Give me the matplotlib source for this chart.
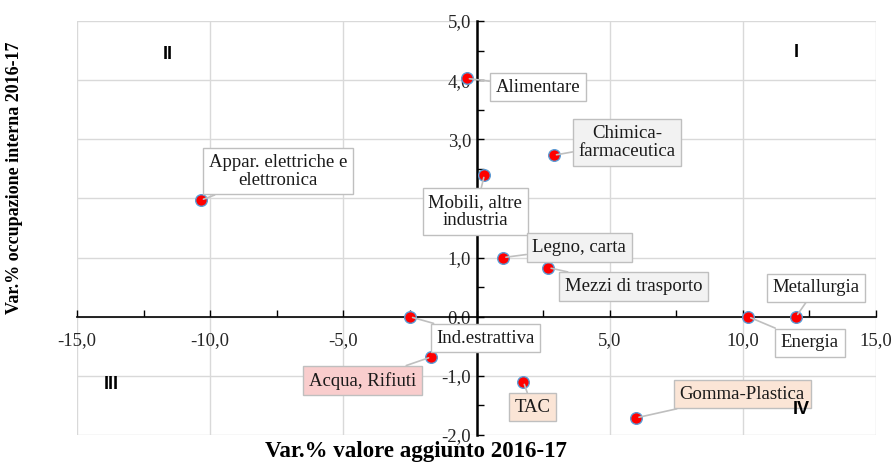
import matplotlib.pyplot as plt
import numpy as np
from matplotlib.ticker import MultipleLocator, FuncFormatter

# data
settori = ['Alimentare', 'Chimica-\nfarmaceutica', 'Appar. elettriche e\nelettronica',
           'Mobili, altre\nindustria', 'Legno, carta', 'Mezzi di trasporto',
           'Metallurgia', 'Energia', 'Ind.estrattiva', 'Acqua, Rifiuti',
           'TAC', 'Gomma-Plastica']
var_va = [-0.37, 2.9, -10.35, 0.3, 1.0, 2.7, 12.0, 10.2, -2.5, -1.7, 1.76, 6.0]
var_occ = [4.03, 2.73, 1.97, 2.4, 1.0, 0.83, 0.0, 0.0, 0.0, -0.68, -1.1, -1.71]

# label box placement (data coords) and fill
lab_pos = [(2.3, 3.88), (5.66, 2.95), (-7.46, 2.46), (-0.04, 1.78), (3.86, 1.17),
           (5.89, 0.51), (12.75, 0.49), (12.52, -0.44), (0.34, -0.36),
           (-4.28, -1.08), (2.1, -1.53), (9.98, -1.31)]
lab_fill = ['white', '#f2f2f2', 'white', 'white', '#f2f2f2', '#f2f2f2',
            'white', 'white', 'white', '#f9cdcd', '#fbe5d6', '#fbe5d6']

serif = 'Liberation Serif'

fig = plt.figure(figsize=(8.96, 4.62), dpi=100)
ax = fig.add_axes([77/896, 1-435/462, (876-77)/896, (435-21)/462])

ax.set_xlim(-15, 15)
ax.set_ylim(-2, 5)
ax.xaxis.set_major_locator(MultipleLocator(5))
ax.xaxis.set_minor_locator(MultipleLocator(2.5))
ax.yaxis.set_major_locator(MultipleLocator(1))
ax.yaxis.set_minor_locator(MultipleLocator(0.5))
fmt = FuncFormatter(lambda v, p: ('%.1f' % v).replace('.', ','))
ax.xaxis.set_major_formatter(fmt)
ax.yaxis.set_major_formatter(fmt)

ax.grid(True, which='major', color='#d9d9d9', lw=1)
ax.set_axisbelow(True)
for s in ['top', 'right']:
    ax.spines[s].set_visible(False)
ax.spines['left'].set_position(('data', 0))
ax.spines['bottom'].set_position(('data', 0))
ax.spines['left'].set_linewidth(1.8)
ax.spines['bottom'].set_linewidth(1.2)
ax.tick_params(which='both', direction='in', colors='black', length=5, width=1)
ax.tick_params(axis='x', pad=11)
ax.tick_params(axis='y', pad=4)
for lab in ax.get_xticklabels() + ax.get_yticklabels():
    lab.set_fontfamily(serif)
    lab.set_fontsize(13.5)
    lab.set_color('#262626')

ax.scatter(var_va, var_occ, s=70, color='red', edgecolors='#5b9bd5', linewidths=1, zorder=4)

for name, x, y, (tx, ty), fc in zip(settori, var_va, var_occ, lab_pos, lab_fill):
    ax.annotate(name, xy=(x, y), xytext=(tx, ty), ha='center', va='center',
                fontsize=13.5, family=serif, color='#1a1a1a', linespacing=1.1,
                bbox=dict(boxstyle='square,pad=0.3', fc=fc, ec='#bfbfbf', lw=1),
                arrowprops=dict(arrowstyle='-', color='#bfbfbf', lw=1.2, shrinkA=0, shrinkB=2),
                zorder=5)

for q, qx, qy in [('I', 12.0, 4.47), ('II', -11.6, 4.44), ('III', -13.7, -1.15), ('IV', 12.2, -1.57)]:
    ax.text(qx, qy, q, ha='center', va='center', fontsize=13, fontweight='bold',
            family='Liberation Sans', zorder=6)

fig.text(416/896, 1-452/462, 'Var.% valore aggiunto 2016-17', ha='center', va='center',
         family=serif, fontweight='bold', fontsize=16.5)
fig.text(15/896, 1-178/462, 'Var.% occupazione interna 2016-17', ha='center', va='center',
         rotation=90, family=serif, fontweight='bold', fontsize=13)

fig.savefig('out.png', dpi=100)
